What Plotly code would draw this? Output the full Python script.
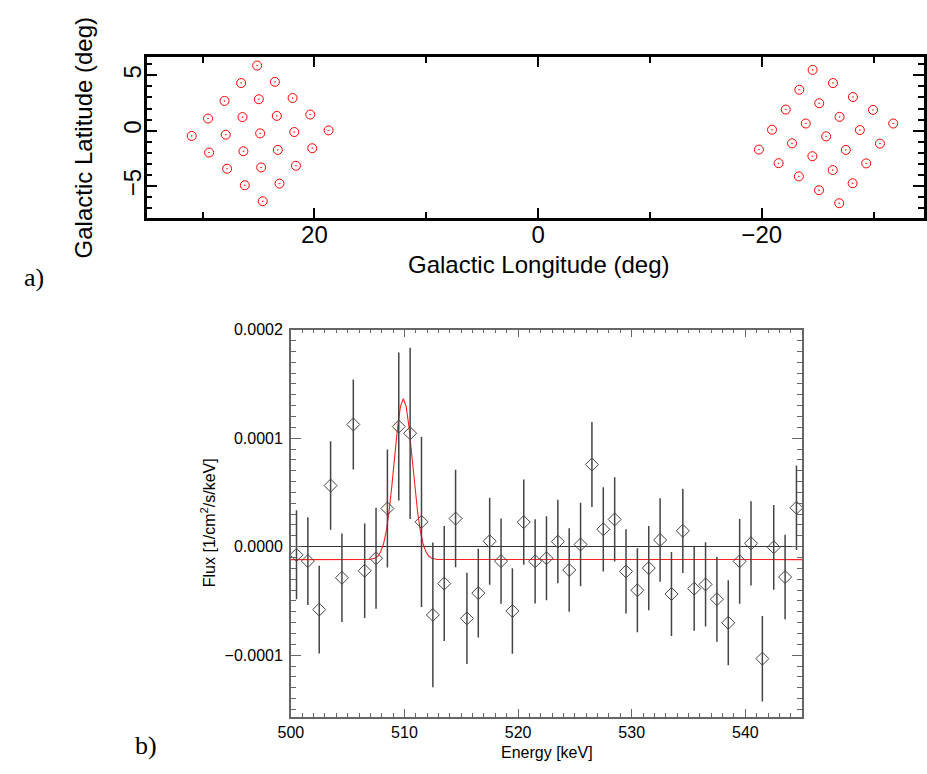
import plotly.graph_objects as go

# ---- Panel a) pointing positions (deg) ----
left_lon = [25.12, 26.55, 23.53, 28.04, 24.97, 21.95, 29.51, 26.43, 23.36, 20.37,
            30.97, 27.93, 24.85, 21.80, 18.73, 29.42, 26.35, 23.27, 20.19, 27.81,
            24.76, 21.65, 26.22, 23.12, 24.62]
left_lat = [5.88, 4.30, 4.41, 2.69, 2.84, 2.95, 1.10, 1.23, 1.34, 1.46,
            -0.47, -0.36, -0.24, -0.12, 0.03, -1.97, -1.85, -1.73, -1.58, -3.43,
            -3.31, -3.16, -4.92, -4.77, -6.36]
right_lon = [-24.55, -26.37, -23.36, -28.16, -25.14, -22.15, -29.95, -26.96, -23.94, -20.92,
             -31.76, -28.77, -25.76, -22.71, -19.75, -30.57, -27.52, -24.53, -21.51, -29.34,
             -26.35, -23.32, -28.13, -25.12, -26.93]
right_lat = [5.49, 4.30, 3.70, 3.04, 2.48, 1.91, 1.88, 1.25, 0.65, 0.09,
             0.65, 0.06, -0.51, -1.14, -1.70, -1.16, -1.73, -2.30, -2.93, -2.95,
             -3.55, -4.12, -4.74, -5.37, -6.54]

# ---- Panel b) spectrum (flux in units of 1e-5 ph/cm2/s/keV) ----
energy = [500.5, 501.5, 502.5, 503.5, 504.5, 505.5, 506.5, 507.5, 508.5, 509.5,
          510.5, 511.5, 512.5, 513.5, 514.5, 515.5, 516.5, 517.5, 518.5, 519.5,
          520.5, 521.5, 522.5, 523.5, 524.5, 525.5, 526.5, 527.5, 528.5, 529.5,
          530.5, 531.5, 532.5, 533.5, 534.5, 535.5, 536.5, 537.5, 538.5, 539.5,
          540.5, 541.5, 542.5, 543.5, 544.5]
flux = [-0.75, -1.33, -5.80, 5.63, -2.87, 11.26, -2.22, -1.07, 3.52, 11.07,
        10.45, 2.29, -6.29, -3.40, 2.59, -6.61, -4.28, 0.50, -1.33, -5.93,
        2.26, -1.35, -1.07, 0.47, -2.15, 0.20, 7.57, 1.60, 2.51, -2.28,
        -4.02, -1.97, 0.62, -4.36, 1.46, -3.87, -3.48, -4.84, -7.01, -1.35,
        0.31, -10.32, -0.06, -2.80, 3.59]
flux_err = [4.10, 4.05, 4.05, 4.08, 4.08, 4.15, 4.35, 4.65, 5.43, 6.82,
            7.89, 7.84, 6.67, 5.30, 4.49, 4.20, 4.08, 4.00, 3.93, 3.94,
            3.93, 3.88, 3.87, 3.85, 3.85, 3.85, 3.91, 3.88, 3.88, 3.88,
            3.87, 3.88, 3.85, 3.88, 3.88, 3.88, 3.88, 3.92, 3.91, 3.91,
            3.88, 3.94, 3.90, 3.90, 3.90]
# fitted model curve
model_energy = [500.0, 506.9, 507.4, 507.65, 507.9, 508.15, 508.4, 508.65, 508.9, 509.15,
                509.4, 509.65, 509.9, 510.15, 510.4, 510.65, 510.9, 511.15, 511.4, 511.65,
                511.9, 512.15, 512.4, 512.9, 545.0]
model_flux = [-1.19, -1.18, -1.07, -0.89, -0.50, 0.22, 1.44, 3.27, 5.69, 8.43,
              11.04, 12.93, 13.63, 12.93, 11.04, 8.43, 5.69, 3.27, 1.44, 0.22,
              -0.50, -0.89, -1.07, -1.18, -1.19]
unit = 1e-5

W, H = 927, 774
def px(x):
    return x / W
def py(y):
    return 1 - y / H

SANS = "Liberation Sans, Arial, Helvetica, sans-serif"
SERIF = "Liberation Serif, Times New Roman, serif"

fig = go.Figure()

fig.add_trace(go.Scatter(x=left_lon + right_lon, y=left_lat + right_lat, mode="markers",
                         marker=dict(symbol="circle-open-dot", size=9, color="red",
                                     line=dict(color="red", width=1)),
                         xaxis="x", yaxis="y", showlegend=False))

fig.add_trace(go.Scatter(x=model_energy, y=[v * unit for v in model_flux], mode="lines",
                         line=dict(color="#ff2020", width=1.1),
                         xaxis="x2", yaxis="y2", showlegend=False))

fig.add_trace(go.Scatter(x=energy, y=[v * unit for v in flux], mode="markers",
                         marker=dict(symbol="diamond-open", size=10, color="#444444",
                                     line=dict(color="#444444", width=1)),
                         error_y=dict(type="data", array=[e * unit for e in flux_err],
                                      visible=True, width=0, thickness=1.5, color="#444444"),
                         xaxis="x2", yaxis="y2", showlegend=False))

fig.update_layout(
    width=W, height=H,
    margin=dict(l=0, r=0, t=0, b=0),
    paper_bgcolor="white", plot_bgcolor="white",
    font=dict(family=SANS, color="black"),
    xaxis=dict(domain=[px(136), 1.0], anchor="y", range=[35, -34.51],
               tick0=0, dtick=20, ticks="inside", ticklen=10, tickwidth=2, tickcolor="black",
               minor=dict(dtick=10, ticks="inside", ticklen=6, tickwidth=2, tickcolor="black"),
               showline=True, linecolor="black", linewidth=2.5, mirror="allticks",
               showgrid=False, zeroline=False, tickfont=dict(size=24, family=SANS),
               ticklabelstandoff=-6),
    yaxis=dict(domain=[py(211.7), py(49.3)], anchor="x", range=[-7.83, 6.67],
               tick0=0, dtick=5, ticks="inside", ticklen=11, tickwidth=2, tickcolor="black",
               minor=dict(dtick=1, ticks="inside", ticklen=6, tickwidth=2, tickcolor="black"),
               showline=True, linecolor="black", linewidth=2.5, mirror="allticks",
               showgrid=False, zeroline=False, tickangle=-90,
               tickfont=dict(size=24, family=SANS), ticklabelstandoff=-7),
    xaxis2=dict(domain=[px(282.7), px(803)], anchor="y2", range=[500, 545],
                tick0=500, dtick=10, ticks="inside", ticklen=8, tickwidth=1.2, tickcolor="#666666",
                minor=dict(dtick=1, ticks="inside", ticklen=4, tickwidth=1.2, tickcolor="#666666"),
                showline=True, linecolor="#666666", linewidth=1.5, mirror="allticks",
                showgrid=False, zeroline=False, tickfont=dict(size=16, family=SANS),
                ticklabelstandoff=0),
    yaxis2=dict(domain=[py(716), py(325)], anchor="x2", range=[-0.0001566, 0.0002],
                tick0=0, dtick=0.0001, tickformat=".4f", ticks="inside", ticklen=10,
                tickwidth=1.2, tickcolor="#666666",
                minor=dict(dtick=0.00001, ticks="inside", ticklen=5, tickwidth=1.2, tickcolor="#666666"),
                showline=True, linecolor="#666666", linewidth=1.5, mirror="allticks",
                showgrid=False, zeroline=True, zerolinecolor="#333333", zerolinewidth=1.2,
                tickfont=dict(size=16, family=SANS), ticklabelstandoff=3),
)

ann = [
    dict(text="Galactic Longitude (deg)", x=px(535), y=py(259), font=dict(size=24, family=SANS)),
    dict(text="Galactic Latitude (deg)", x=px(72), y=py(131), textangle=-90, font=dict(size=24, family=SANS)),
    dict(text="a)", x=px(21), y=py(272), font=dict(size=26, family=SERIF)),
    dict(text="Energy [keV]", x=px(543), y=py(752), font=dict(size=16, family=SANS)),
    dict(text="Flux [1/cm<sup>2</sup>/s/keV]", x=px(198), y=py(520), textangle=-90, font=dict(size=16, family=SANS)),
    dict(text="b)", x=px(135), y=py(745), font=dict(size=26, family=SERIF)),
]
for a in ann:
    fig.add_annotation(xref="paper", yref="paper", showarrow=False,
                       xanchor="center", yanchor="middle", **a)

fig.write_html("out.html", config={"displayModeBar": False},
               post_script="document.body.style.margin='0';document.body.style.padding='0';")
